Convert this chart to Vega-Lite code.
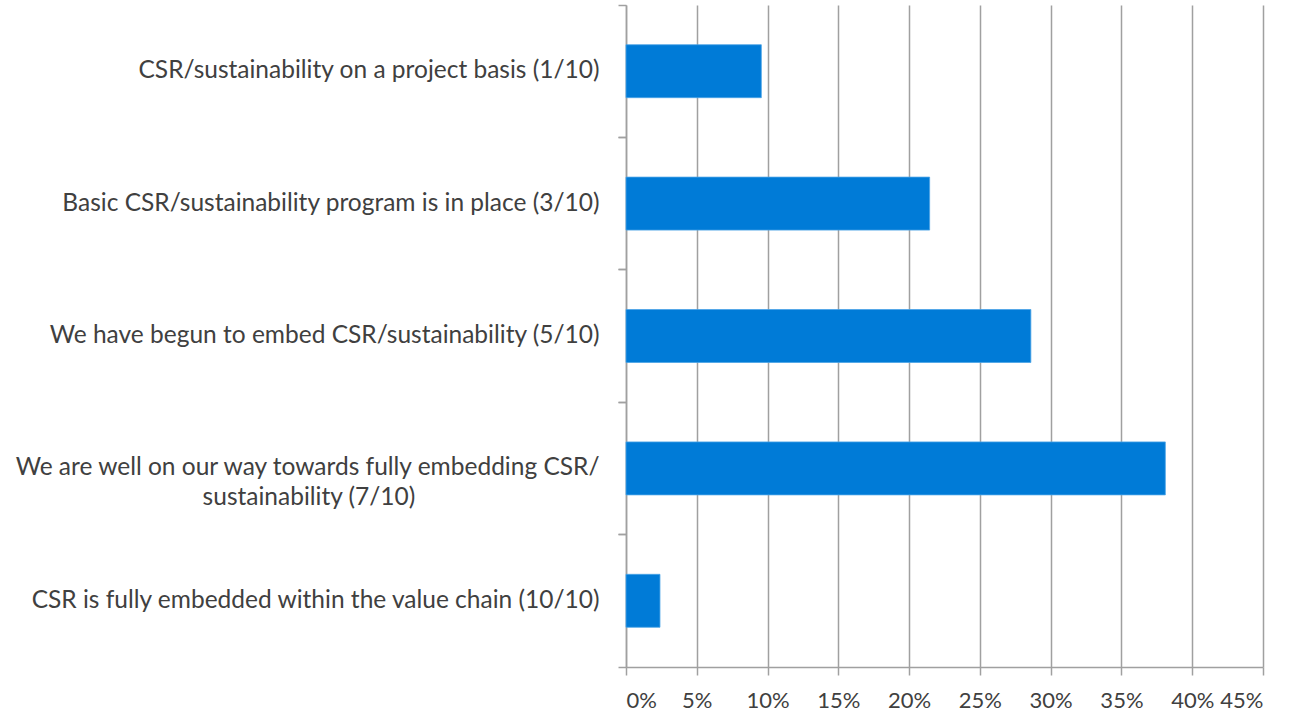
{
  "$schema": "https://vega.github.io/schema/vega-lite/v6.json",
  "autosize": "none",
  "width": 637,
  "height": 662,
  "padding": {"left": 626, "top": 5, "right": 29, "bottom": 47},
  "background": "white",
  "config": {
    "view": {"stroke": null},
    "font": "Lato",
    "axis": {"labelFont": "Lato", "labelColor": "#404040", "labelFontSize": 22}
  },
  "data": {
    "values": [
      {"category": "CSR/sustainability on a project basis (1/10)", "share": 0.0956},
      {"category": "Basic CSR/sustainability program is in place (3/10)", "share": 0.2145},
      {"category": "We have begun to embed CSR/sustainability (5/10)", "share": 0.286},
      {"category": "We are well on our way towards fully embedding CSR/ sustainability (7/10)", "share": 0.381},
      {"category": "CSR is fully embedded within the value chain (10/10)", "share": 0.024}
    ]
  },
  "layer": [
    {
      "mark": {"type": "bar", "color": "#007BD7", "stroke": "#4aa3e6", "strokeWidth": 0.8, "height": {"band": 0.4}},
      "encoding": {
        "y": {
          "field": "category",
          "type": "nominal",
          "sort": null,
          "scale": {"paddingInner": 0, "paddingOuter": 0},
          "axis": {
            "title": null,
            "orient": "left",
            "bandPosition": 0,
            "tickSize": 8,
            "tickColor": "#a0a0a0",
            "tickWidth": 1.5,
            "domainColor": "#a0a0a0",
            "domainWidth": 1.5,
            "labelLimit": 700,
            "labelFontSize": 24.5,
            "labelLineHeight": 30,
            "labelPadding": 19,
            "labelExpr": "indexof(datum.value, 'We are') === 0 ? ['We are well on our way towards fully embedding CSR/', 'sustainability (7/10)\u2003\u2003\u2003\u2003\u2003\u2003\u2003\u2003\u2003\u00a0\u00a0\u00a0\u2060'] : datum.label"
          }
        },
        "x": {
          "field": "share",
          "type": "quantitative",
          "scale": {"domain": [0, 0.45], "nice": false},
          "axis": {
            "title": null,
            "values": [0, 0.05, 0.1, 0.15, 0.2, 0.25, 0.3, 0.35, 0.4, 0.45],
            "format": ".0%",
            "grid": true,
            "gridColor": "#a0a0a0",
            "gridWidth": 1.5,
            "tickSize": 8,
            "tickColor": "#a0a0a0",
            "tickWidth": 1.5,
            "domainColor": "#a0a0a0",
            "domainWidth": 1.5,
            "labelPadding": 15
          }
        }
      }
    },
    {
      "mark": {"type": "bar", "opacity": 0, "height": {"band": 0.4}},
      "encoding": {
        "y": {
          "field": "category",
          "type": "nominal",
          "sort": null,
          "axis": {
            "title": null,
            "orient": "left",
            "bandPosition": 1,
            "labels": false,
            "domain": false,
            "tickSize": 8,
            "tickColor": "#a0a0a0",
            "tickWidth": 1.5
          }
        }
      }
    }
  ],
  "resolve": {"axis": {"y": "independent"}}
}
